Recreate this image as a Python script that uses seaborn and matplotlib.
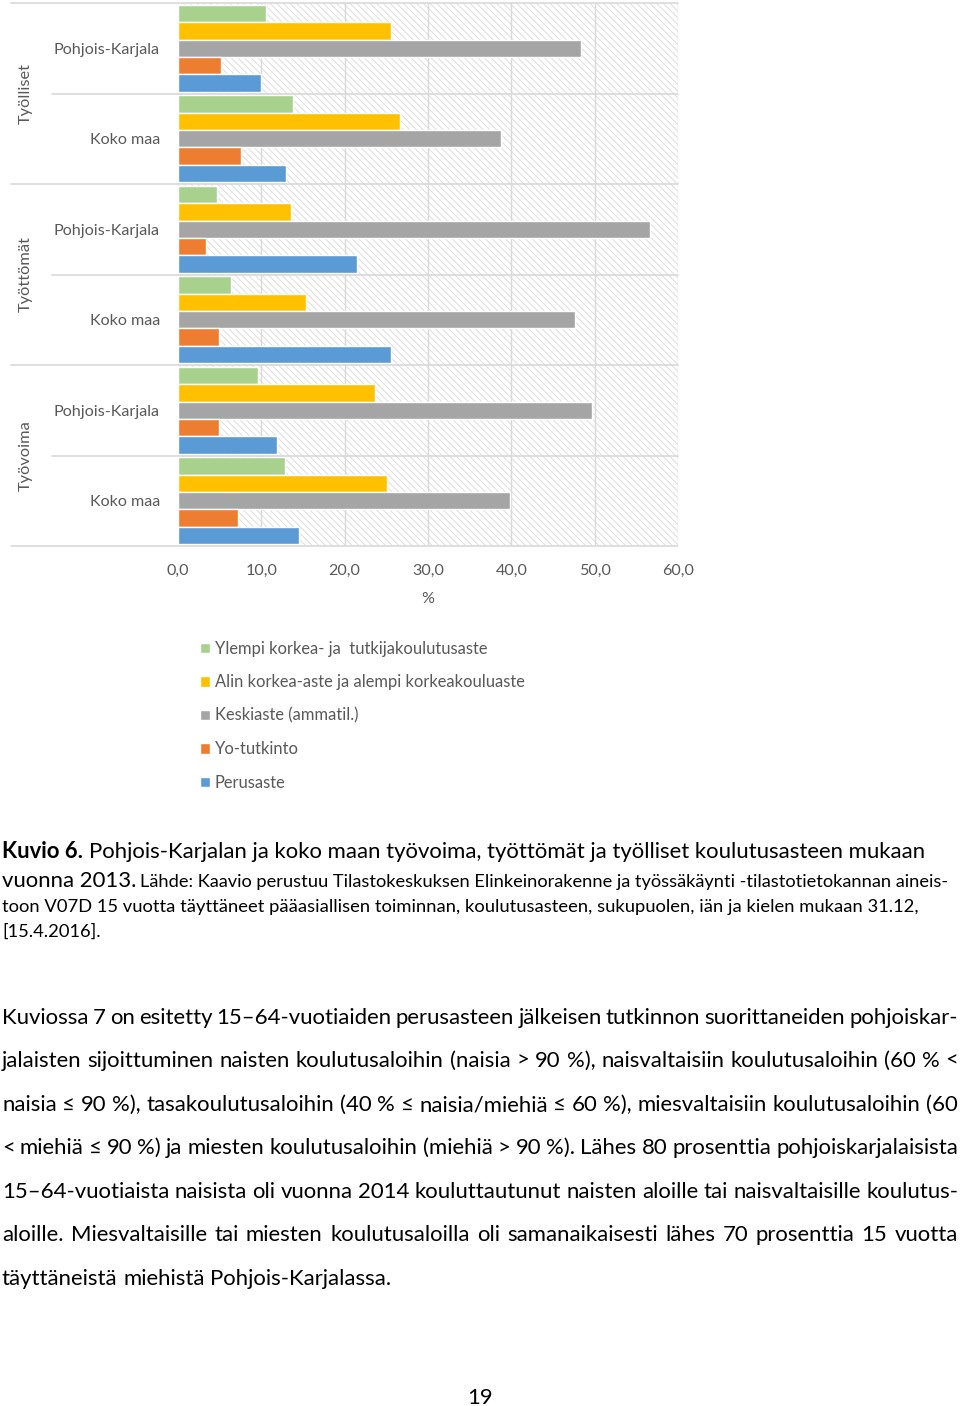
import matplotlib
matplotlib.use("Agg")
import matplotlib.pyplot as plt
from matplotlib.patches import Rectangle
import numpy as np
import pandas as pd
import seaborn as sns

# ---------------- data ----------------
groups = ["Työlliset", "Työlliset", "Työttömät", "Työttömät", "Työvoima", "Työvoima"]
regions = ["Pohjois-Karjala", "Koko maa", "Pohjois-Karjala", "Koko maa", "Pohjois-Karjala", "Koko maa"]
series_names = [
    "Ylempi korkea- ja  tutkijakoulutusaste",
    "Alin korkea-aste ja alempi korkeakouluaste",
    "Keskiaste (ammatil.)",
    "Yo-tutkinto",
    "Perusaste",
]
ylempi = [10.6, 13.8, 4.7, 6.4, 9.6, 12.8]
alin = [25.6, 26.6, 13.6, 15.4, 23.6, 25.1]
keskiaste = [48.3, 38.7, 56.6, 47.6, 49.7, 39.8]
yo = [5.2, 7.6, 3.3, 4.9, 4.9, 7.2]
perusaste = [10.0, 12.9, 21.5, 25.5, 11.9, 14.5]
x_ticks = [0, 10, 20, 30, 40, 50, 60]
x_tick_labels = ["0,0", "10,0", "20,0", "30,0", "40,0", "50,0", "60,0"]
colors = ["#A9D18E", "#FFC000", "#A5A5A5", "#ED7D31", "#5B9BD5"]

caption_bold = "Kuvio 6."
caption_rest = "Pohjois-Karjalan ja koko maan työvoima, työttömät ja työlliset koulutusasteen mukaan"
caption_l2_big = "vuonna 2013."
caption_l2_small = "Lähde: Kaavio perustuu Tilastokeskuksen Elinkeinorakenne ja työssäkäynti -tilastotietokannan aineis-"
caption_l3 = "toon V07D 15 vuotta täyttäneet pääasiallisen toiminnan, koulutusasteen, sukupuolen, iän ja kielen mukaan 31.12,"
caption_l4 = "[15.4.2016]."
body_lines = [
    "Kuviossa 7 on esitetty 15–64-vuotiaiden perusasteen jälkeisen tutkinnon suorittaneiden pohjoiskar-",
    "jalaisten sijoittuminen naisten koulutusaloihin (naisia > 90 %), naisvaltaisiin koulutusaloihin (60 % <",
    "naisia ≤ 90 %), tasakoulutusaloihin (40 % ≤ naisia/miehiä ≤ 60 %), miesvaltaisiin koulutusaloihin (60",
    "< miehiä ≤ 90 %) ja miesten koulutusaloihin (miehiä > 90 %). Lähes 80 prosenttia pohjoiskarjalaisista",
    "15–64-vuotiaista naisista oli vuonna 2014 kouluttautunut naisten aloille tai naisvaltaisille koulutus-",
    "aloille. Miesvaltaisille tai miesten koulutusaloilla oli samanaikaisesti lähes 70 prosenttia 15 vuotta",
    "täyttäneistä miehistä Pohjois-Karjalassa.",
]
page_number = "19"

# ---------------- setup ----------------
sns.set_theme(style="white")
plt.rcParams["font.family"] = ["Lato", "DejaVu Sans"]
plt.rcParams["hatch.linewidth"] = 0.7

W, H = 960, 1406
fig = plt.figure(figsize=(W / 100, H / 100), dpi=100)
fig.patch.set_facecolor("white")
renderer = fig.canvas.get_renderer()
GRAY_TXT = "#595959"
LINE = "#d9d9d9"


def width_px(s, size, **kw):
    t = fig.text(0, 0, s, fontsize=size, **kw)
    w = t.get_window_extent(renderer=renderer).width
    t.remove()
    return w


def fit(s, target, **kw):
    return 20 * target / width_px(s, 20, **kw)


def fy(y):
    return 1 - y / H


# ---------------- chart ----------------
cats = [f"{g}|{r}" for g, r in zip(groups, regions)]
df = pd.DataFrame({
    "cat": np.tile(cats, len(series_names)),
    "series": np.repeat(series_names, len(cats)),
    "value": np.concatenate([ylempi, alin, keskiaste, yo, perusaste]),
})

ax = fig.add_axes([178 / W, 1 - 546 / H, 500 / W, 543 / H])
ax.add_patch(Rectangle((0, 0), 1, 1, transform=ax.transAxes, facecolor="white",
                       edgecolor="#dedede", lw=0, hatch="\\\\\\\\\\", zorder=0))
sns.barplot(data=df, x="value", y="cat", hue="series", order=cats,
            hue_order=series_names, palette=colors, orient="h",
            width=0.96, gap=0, saturation=1, ax=ax, legend=True, zorder=2)

handles, labels = ax.get_legend_handles_labels()
if ax.get_legend() is not None:
    ax.get_legend().remove()

ax.set_xlim(0, 60)
ax.set_ylim(5.5, -0.5)
for s in ax.spines.values():
    s.set_visible(False)
ax.grid(False)
for xv in x_ticks[1:]:
    ax.axvline(xv, color=LINE, lw=1, zorder=1)

tick_size = fit("Pohjois-Karjala", 106)
ax.set_xticks(x_ticks)
ax.set_xticklabels(x_tick_labels, fontsize=tick_size, color=GRAY_TXT)
ax.set_yticks(range(len(cats)))
ax.set_yticklabels(regions, fontsize=tick_size, color=GRAY_TXT)
ax.tick_params(axis="y", length=0, pad=13)
ax.tick_params(axis="x", length=0, pad=13)
ax.set_ylabel("")
ax.set_xlabel("%", fontsize=tick_size, color=GRAY_TXT)
ax.xaxis.set_label_coords(0.5, (546 - 599) / 543)
ax.xaxis.label.set_va("center")

# category separator lines
ytr = ax.get_yaxis_transform()
for yb in [-0.5, 1.5, 3.5, 5.5]:
    ax.plot([(11 - 178) / 500, 1], [yb, yb], transform=ytr, clip_on=False, color=LINE, lw=1.2, zorder=3)
for yb in [0.5, 2.5, 4.5]:
    ax.plot([(52 - 178) / 500, 1], [yb, yb], transform=ytr, clip_on=False, color=LINE, lw=1.2, zorder=3)

grp_size = fit("Työttömät", 76)
for yc, g in zip([0.5, 2.5, 4.5], [groups[0], groups[2], groups[4]]):
    ax.text((26 - 178) / 500, yc, g, transform=ytr, rotation=90, ha="center", va="center",
            fontsize=grp_size, color=GRAY_TXT)

# legend
leg_size = fit(series_names[1], 311)
leg = fig.legend(handles, labels, loc="upper left", bbox_to_anchor=(200 / W, fy(641)),
                 frameon=False, fontsize=leg_size, handlelength=0.6, handleheight=0.6,
                 handletextpad=0.3, labelspacing=1.05, borderaxespad=0, borderpad=0)
for t in leg.get_texts():
    t.set_color(GRAY_TXT)

# ---------------- caption ----------------
cap_big = fit(caption_rest, 836)
cap_small = fit(caption_l3, 915)
sp_big = width_px("a a", cap_big) - width_px("aa", cap_big)

x = 2
fig.text(x / W, fy(852), caption_bold, fontsize=cap_big, weight="bold", va="center", color="black")
x += width_px(caption_bold, cap_big, weight="bold") + sp_big
fig.text(x / W, fy(852), caption_rest, fontsize=cap_big, va="center", color="black")

x = 2
fig.text(x / W, fy(881), caption_l2_big, fontsize=cap_big, va="center", color="black")
x += width_px(caption_l2_big, cap_big) + sp_big * 0.7
small_l2 = min(cap_small, fit(caption_l2_small, 952 - x))
fig.text(x / W, fy(882), caption_l2_small, fontsize=small_l2, va="center", color="black")
fig.text(2 / W, fy(907), caption_l3, fontsize=cap_small, va="center", color="black")
fig.text(2 / W, fy(932), caption_l4, fontsize=cap_small, va="center", color="black")

# ---------------- body paragraph ----------------
body_size = fit(body_lines[-1], 389)
line_ys = [1018, 1061, 1105, 1148, 1192, 1235, 1279]
for i, (line, yy) in enumerate(zip(body_lines, line_ys)):
    words = line.split(" ")
    ws = [width_px(w, body_size) for w in words]
    last = i == len(body_lines) - 1
    if not last and len(words) > 1:
        gap = (958 - 2 - sum(ws)) / (len(words) - 1)
    else:
        gap = width_px("a a", body_size) - width_px("aa", body_size)
    x = 2
    for w, wd in zip(words, ws):
        fig.text(x / W, fy(yy), w, fontsize=body_size, va="center", ha="left", color="black")
        x += wd + gap

fig.text(480 / W, fy(1404), page_number, fontsize=body_size, ha="center", va="baseline", color="black")

fig.savefig("out.png", dpi=100, facecolor="white")
